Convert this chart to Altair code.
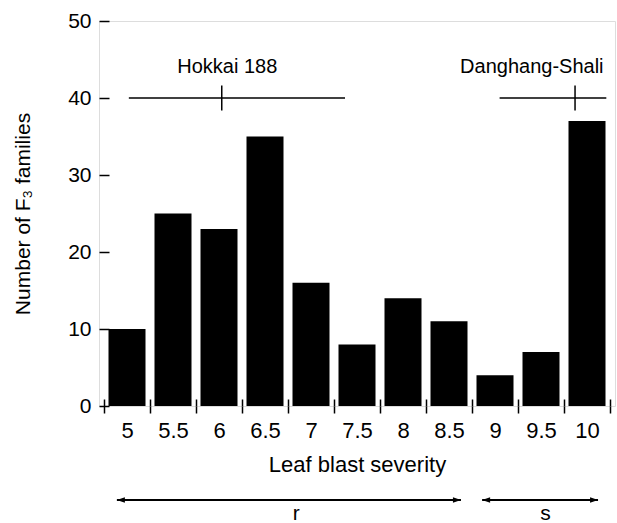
import altair as alt
import pandas as pd

# ---- data ----
severity = [5, 5.5, 6, 6.5, 7, 7.5, 8, 8.5, 9, 9.5, 10]
families = [10, 25, 23, 35, 16, 8, 14, 11, 4, 7, 37]

bin_edges = [4.75, 5.25, 5.75, 6.25, 6.75, 7.25, 7.75, 8.25, 8.75, 9.25, 9.75, 10.25]
y_ticks = [0, 10, 20, 30, 40, 50]

parents = ["Hokkai 188", "Danghang-Shali"]
parent_low = [5.02, 9.05]
parent_mean = [6.03, 9.87]
parent_high = [7.37, 10.21]
parent_level = [40, 40]
parent_label_x = [6.09, 9.40]
parent_label_y = [43.2, 43.2]

classes = ["r", "s"]
class_low = [4.89, 8.86]
class_high = [8.63, 10.12]
class_label_x = [6.84, 9.55]

# ---- tables ----
bars_df = pd.DataFrame({"severity": severity, "families": families})
par_df = pd.DataFrame({"parent": parents, "low": parent_low, "mean": parent_mean,
                       "high": parent_high, "level": parent_level,
                       "lx": parent_label_x, "ly": parent_label_y})
cls_df = pd.DataFrame({"cls": classes, "low": class_low, "high": class_high, "lx": class_label_x})

FONT = "Liberation Sans"
x_scale = alt.Scale(domain=[4.75, 10.25], nice=False, zero=False)
y_scale = alt.Scale(domain=[0, 50], nice=False, zero=True)

y_axis = alt.Axis(values=y_ticks, tickSize=10, offset=-10, domain=False, labelPadding=8,
                  labelFontSize=21, titleFontSize=21, title="Number of F₃ families",
                  titlePadding=34, grid=False, tickColor="black", tickWidth=1.5,
                  labelColor="black", titleColor="black", titleFontWeight="normal")

axis_out = alt.Axis(orient="bottom", values=bin_edges, labels=False, tickSize=7, tickWidth=1.5,
                    tickColor="black", domain=False, grid=False, title=None)
axis_in = alt.Axis(orient="bottom", values=bin_edges, labels=False, tickSize=7, tickWidth=1.5,
                   tickColor="black", domain=False, grid=False, title=None, offset=-7)
axis_lab = alt.Axis(orient="bottom", values=severity, ticks=False, tickSize=0, domain=False,
                    grid=False, format=".1~f", labelFontSize=22, labelPadding=14,
                    labelColor="black", title="Leaf blast severity", titleFontSize=22,
                    titleFontWeight="normal", titleColor="black", titlePadding=13)

bars = alt.Chart(bars_df).mark_bar(size=37, color="black").encode(
    x=alt.X("severity:Q", scale=x_scale, axis=axis_out),
    y=alt.Y("families:Q", scale=y_scale, axis=y_axis),
)

par_line = alt.Chart(par_df).mark_rule(color="black", strokeWidth=1.5).encode(
    x=alt.X("low:Q", scale=x_scale, axis=axis_lab),
    x2="high:Q",
    y=alt.Y("level:Q", scale=y_scale, axis=y_axis),
)

par_mean = alt.Chart(par_df).mark_tick(color="black", orient="vertical", size=25,
                                       thickness=1.5, opacity=1).encode(
    x=alt.X("mean:Q", scale=x_scale, axis=axis_in),
    y=alt.Y("level:Q", scale=y_scale, axis=y_axis),
)

par_text = alt.Chart(par_df).mark_text(font=FONT, fontSize=20, color="black",
                                       align="center", baseline="alphabetic").encode(
    x=alt.X("lx:Q", scale=x_scale, axis=None),
    y=alt.Y("ly:Q", scale=y_scale, axis=y_axis),
    text="parent:N",
)

arrow_line = alt.Chart(cls_df).mark_rule(color="black", strokeWidth=2).encode(
    x=alt.X("low:Q", scale=x_scale, axis=None),
    x2="high:Q",
    y=alt.value(479),
)

left_head = alt.Chart(cls_df).mark_point(shape="M -1 0 L 1 -0.7 L 1 0.7 Z", filled=True,
                                         size=64, color="black", opacity=1, xOffset=4).encode(
    x=alt.X("low:Q", scale=x_scale, axis=None),
    y=alt.value(479),
)
right_head = alt.Chart(cls_df).mark_point(shape="M 1 0 L -1 -0.7 L -1 0.7 Z", filled=True,
                                          size=64, color="black", opacity=1, xOffset=-4).encode(
    x=alt.X("high:Q", scale=x_scale, axis=None),
    y=alt.value(479),
)

cls_text = alt.Chart(cls_df).mark_text(font=FONT, fontSize=21, color="black",
                                       align="center", baseline="alphabetic").encode(
    x=alt.X("lx:Q", scale=x_scale, axis=None),
    y=alt.value(499),
    text="cls:N",
)

chart = alt.layer(bars, par_line, par_mean, par_text, arrow_line, left_head, right_head,
                  cls_text).resolve_axis(x="independent").properties(
    width=516, height=385,
    padding={"left": 99, "top": 21, "right": 2, "bottom": 117},
    autosize=alt.AutoSizeParams(type="none"),
    background="white",
).configure_view(stroke="black", strokeWidth=1.5).configure(
    font=FONT
).configure_axis(labelFont=FONT, titleFont=FONT)

chart.save("out.html", embed_options={"renderer": "svg", "actions": False})
